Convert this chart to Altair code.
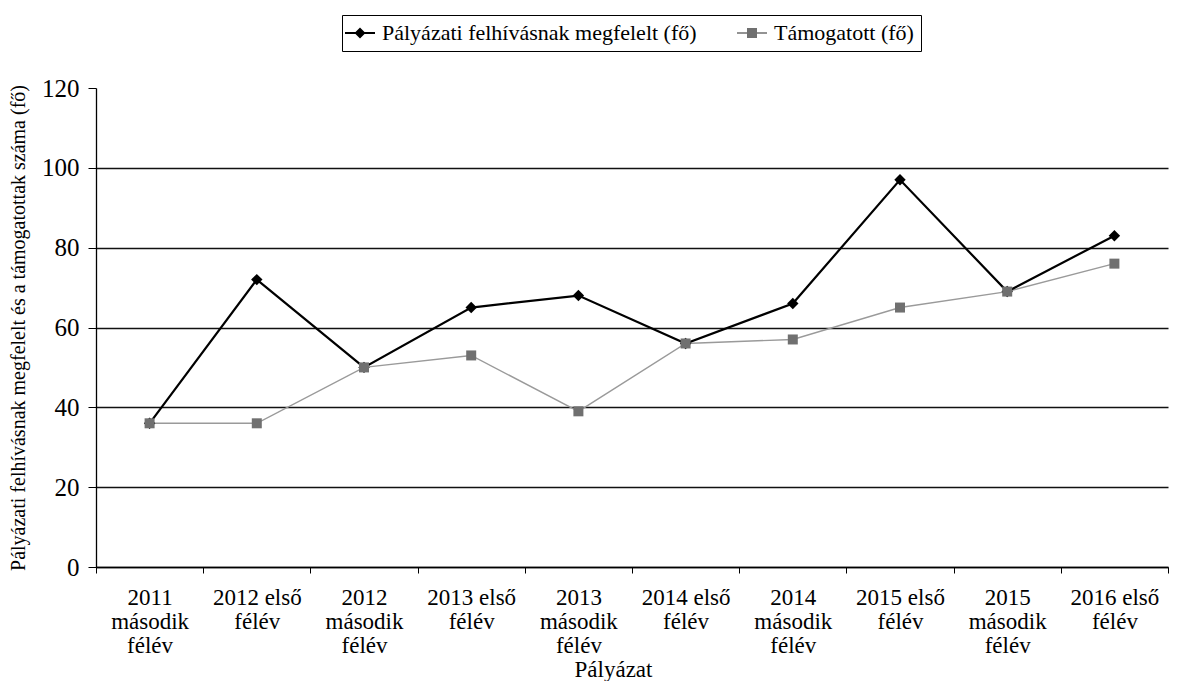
import json
import altair as alt
import pandas as pd

categories = [
    "2011 második félév", "2012 első félév", "2012 második félév",
    "2013 első félév", "2013 második félév", "2014 első félév",
    "2014 második félév", "2015 első félév", "2015 második félév",
    "2016 első félév",
]
tick_label_lines = [
    ["2011", "második", "félév"], ["2012 első", "félév"], ["2012", "második", "félév"],
    ["2013 első", "félév"], ["2013", "második", "félév"], ["2014 első", "félév"],
    ["2014", "második", "félév"], ["2015 első", "félév"], ["2015", "második", "félév"],
    ["2016 első", "félév"],
]
series_names = ["Pályázati felhívásnak megfelelt (fő)", "Támogatott (fő)"]
megfelelt = [36, 72, 50, 65, 68, 56, 66, 97, 69, 83]
tamogatott = [36, 36, 50, 53, 39, 56, 57, 65, 69, 76]
y_ticks = [0, 20, 40, 60, 80, 100, 120]

rows = []
for i, c in enumerate(categories):
    rows.append({"cat": c, "idx": i, "series": series_names[0], "value": megfelelt[i]})
for i, c in enumerate(categories):
    rows.append({"cat": c, "idx": i, "series": series_names[1], "value": tamogatott[i]})
df = pd.DataFrame(rows)

FONT = "Liberation Serif"
label_expr = (json.dumps(tick_label_lines, ensure_ascii=False)
              + "[indexof(" + json.dumps(categories, ensure_ascii=False) + ", datum.label)]")

x = alt.X("cat:N", sort=categories,
          scale=alt.Scale(type="band", paddingInner=0, paddingOuter=0),
          axis=alt.Axis(title="Pályázat", labelAngle=0, labelExpr=label_expr,
                        labelFont=FONT, labelFontSize=23, labelLineHeight=24,
                        labelColor="black", labelPadding=13,
                        tickBand="extent", tickSize=6, tickColor="black",
                        domainColor="black", domainWidth=1.3, grid=False,
                        titleFont=FONT, titleFontSize=23, titleFontWeight="normal",
                        titleColor="black", titlePadding=1, titleX=517))
y = alt.Y("value:Q",
          scale=alt.Scale(domain=[0, 120], nice=False),
          axis=alt.Axis(values=y_ticks, title="Pályázati felhívásnak megfelelt és a támogatottak száma (fő)",
                        labelFont=FONT, labelFontSize=25, labelColor="black", labelPadding=9,
                        tickSize=8, tickColor="black", domainColor="black", domainWidth=1.3,
                        grid=True, gridWidth=1.4,
                        gridColor={"condition": {"test": "datum.value >= 120", "value": "transparent"},
                                   "value": "#111111"},
                        titleFont=FONT, titleFontSize=20, titleFontWeight="normal",
                        titleColor="black", titlePadding=13))

base = alt.Chart(df)
only_a = base.transform_filter(alt.datum.series == series_names[0])
only_b = base.transform_filter(alt.datum.series == series_names[1])

line_a = only_a.mark_line(color="#000000", strokeWidth=2.2).encode(x=x, y=y, order="idx:Q")
line_b = only_b.mark_line(color="#9a9a9a", strokeWidth=1.4).encode(x=x, y=y, order="idx:Q")

diamonds = only_a.mark_point(
    shape="diamond", filled=True, fill="#000000", size=130, opacity=1
).encode(x=x, y=y)

squares = only_b.mark_point(
    shape="square", filled=True, fill="#707070", size=100, opacity=1
).encode(x=x, y=y)

# legend symbols: a short line with the marker in its middle (unit = 10 px at symbolSize 400)
path1 = "M-1.5,-0.11H1.5V0.11H-1.5Z M0,-0.55L0.55,0L0,0.55L-0.55,0Z"
path2 = "M-1.5,-0.07H1.5V0.07H-1.5Z M-0.5,-0.5H0.5V0.5H-0.5Z"

legend = alt.Legend(orient="none", legendX=246, legendY=-73, direction="horizontal",
                    title=None, strokeColor="black", fillColor="white", padding=7,
                    labelFont=FONT, labelFontSize=22, labelColor="black", labelLimit=0,
                    symbolSize=400, symbolStrokeWidth=0, labelOffset=11, columnPadding=40)

legend_layer = base.mark_point(filled=True, opacity=1, size=0).encode(
    x=x, y=y,
    fill=alt.Fill("series:N", scale=alt.Scale(domain=series_names, range=["#000000", "#707070"]), legend=legend),
    shape=alt.Shape("series:N", scale=alt.Scale(domain=series_names, range=[path1, path2]), legend=legend),
)

chart = alt.layer(line_b, line_a, diamonds, squares, legend_layer).properties(
    width=1072, height=479,
    padding={"left": 0, "top": 6, "right": 0, "bottom": 0},
    background="white",
).configure_view(stroke=None)

chart.save("out.html", embed_options={"renderer": "svg", "actions": False})
